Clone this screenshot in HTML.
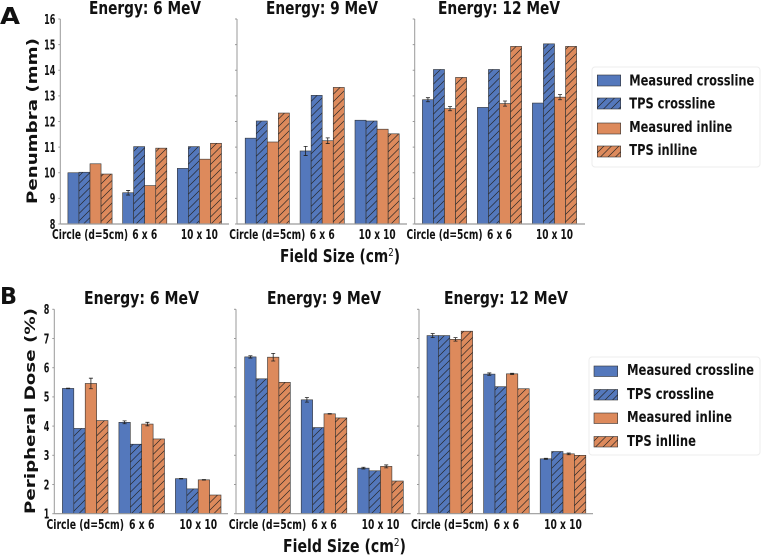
<!DOCTYPE html>
<html lang="en">
<head>
<meta charset="utf-8">
<title>Penumbra and Peripheral Dose by Field Size</title>
<style>
html,body{margin:0;padding:0;background:#fff;width:761px;height:555px;overflow:hidden}
svg{display:block;filter:blur(0.35px)}
text{font-family:"DejaVu Sans","Liberation Sans",sans-serif;font-weight:bold;fill:#111}
</style>
</head>
<body>
<svg id="fig" xmlns="http://www.w3.org/2000/svg" width="761" height="555" viewBox="0 0 761 555">
<defs>
<pattern id="hatch" patternUnits="userSpaceOnUse" width="7.5" height="7.5">
<path d="M-1,1 L1,-1 M0,7.5 L7.5,0 M6.5,8.5 L8.5,6.5" stroke="#222" stroke-width="0.62" fill="none"/>
</pattern>
</defs>
<text x="0" y="24" font-size="23.5" textLength="20" lengthAdjust="spacingAndGlyphs">A</text>
<text x="0" y="304" font-size="23" textLength="17" lengthAdjust="spacingAndGlyphs">B</text>
<text transform="translate(37,204) rotate(-90)" font-size="14.5" textLength="166" lengthAdjust="spacingAndGlyphs">Penumbra (mm)</text>
<text transform="translate(35,514) rotate(-90)" font-size="14.5" textLength="206" lengthAdjust="spacingAndGlyphs">Peripheral Dose (%)</text>
<text x="280" y="262" font-size="17.5" textLength="120" lengthAdjust="spacingAndGlyphs">Field Size (cm<tspan dy="-6" font-size="11" font-weight="normal">2</tspan><tspan dy="6">)</tspan></text>
<text x="283" y="552" font-size="17.5" textLength="123" lengthAdjust="spacingAndGlyphs">Field Size (cm<tspan dy="-6" font-size="11" font-weight="normal">2</tspan><tspan dy="6">)</tspan></text>
</svg>
<script>
// ---- data ----
const categories = ["Circle (d=5cm)", "6 x 6", "10 x 10"];
const seriesNames = ["Measured crossline", "TPS crossline", "Measured inline", "TPS inlline"];
const energyLabels = ["Energy: 6 MeV", "Energy: 9 MeV", "Energy: 12 MeV"];
const penumbraTicks = [8, 9, 10, 11, 12, 13, 14, 15, 16];
const doseTicks = [1, 2, 3, 4, 5, 6, 7, 8];

const penumbra6 = [[10.0, 10.02, 10.35, 9.95], [9.22, 11.02, 9.5, 10.96], [10.17, 11.02, 10.53, 11.15]];
const penumbra9 = [[11.35, 12.02, 11.2, 12.33], [10.85, 13.02, 11.25, 13.33], [12.05, 12.02, 11.7, 11.52]];
const penumbra12 = [[12.85, 14.03, 12.5, 13.72], [12.55, 14.03, 12.7, 14.93], [12.72, 15.03, 12.95, 14.93]];
const penumbraErr6 = [[0, 0, 0, 0], [0.09, 0, 0, 0], [0, 0, 0, 0]];
const penumbraErr9 = [[0, 0, 0, 0], [0.18, 0, 0.11, 0], [0, 0, 0, 0]];
const penumbraErr12 = [[0.08, 0, 0.08, 0], [0, 0, 0.1, 0], [0, 0, 0.1, 0]];

const dose6 = [[5.29, 3.92, 5.46, 4.19], [4.13, 3.38, 4.07, 3.56], [2.2, 1.85, 2.16, 1.64]];
const dose9 = [[6.37, 5.62, 6.36, 5.5], [4.9, 3.95, 4.42, 4.28], [2.56, 2.47, 2.62, 2.12]];
const dose12 = [[7.1, 7.1, 6.97, 7.25], [5.78, 5.35, 5.79, 5.28], [2.88, 3.13, 3.05, 3.0]];
const doseErr6 = [[0.01, 0, 0.18, 0], [0.05, 0, 0.06, 0], [0.01, 0, 0.01, 0]];
const doseErr9 = [[0.04, 0, 0.13, 0], [0.08, 0, 0.01, 0], [0.03, 0, 0.05, 0]];
const doseErr12 = [[0.07, 0, 0.06, 0], [0.04, 0, 0.02, 0], [0.02, 0, 0.03, 0]];

// ---- layout ----
const NS = "http://www.w3.org/2000/svg";
const svg = document.getElementById("fig");
const SPINE = "#9a9a9a";
const BLUE = "#5478bc";
const ORANGE = "#dd8a5c";
const colours = [BLUE, BLUE, ORANGE, ORANGE];
const hatched = [false, true, false, true];
const charWidth = {"Circle (d=5cm)": 76, "6 x 6": 25, "10 x 10": 37};

function mk(tag, attrs, parent) {
  const el = document.createElementNS(NS, tag);
  for (const k in attrs) el.setAttribute(k, attrs[k]);
  (parent || svg).appendChild(el);
  return el;
}
function slug(s) {
  return s.toLowerCase().replace(/[^a-z0-9]+/g, "-").replace(/^-|-$/g, "");
}

function drawPanel(p) {
  const g = mk("g", {});
  
  

  const yScale = v => p.y0 + (v - p.domain[0]) / (p.domain[1] - p.domain[0]) * (p.y1 - p.y0);
  const xScale = i => p.c0 + i * p.step;

  p.values.forEach((group, c) => {
    group.forEach((v, s) => {
      const x = xScale(c) + (s - 2) * p.barW;
      const top = yScale(v);
      const bar = mk("rect", {x: x, y: top, width: p.barW, height: p.y0 - top, fill: colours[s], stroke: "#333", "stroke-width": 0.6}, g);
      
      
      if (hatched[s]) {
        const h = mk("rect", {x: x, y: top, width: p.barW, height: p.y0 - top, fill: "url(#hatch)"}, g);
        
        
      }
      const err = p.errors[c][s];
      if (err > 0) {
        const cx = x + p.barW / 2;
        const e = mk("path", {
          d: "M" + cx + "," + yScale(v - err) + "V" + yScale(v + err) +
             "M" + (cx - 2) + "," + yScale(v - err) + "h4M" + (cx - 2) + "," + yScale(v + err) + "h4",
          stroke: "#222", "stroke-width": 0.8, fill: "none"
        }, g);
        
        
      }
    });
  });

  const leftSpine = mk("line", {x1: p.left, x2: p.left, y1: p.y0, y2: p.y1, stroke: SPINE, "stroke-width": 1}, g);
  
  
  const bottomSpine = mk("line", {x1: p.left, x2: p.right, y1: p.y0, y2: p.y0, stroke: SPINE, "stroke-width": 1.2}, g);
  
  

  p.ticks.forEach(t => {
    const y = yScale(t);
    const tick = mk("line", {x1: p.left - 2, x2: p.left, y1: y, y2: y, stroke: SPINE, "stroke-width": 1}, g);
    
    
    if (p.showY) {
      const s = String(t);
      const lab = mk("text", {x: p.left - 5, y: y + 4.8, "font-size": 13, "text-anchor": "end", textLength: s.length * 5.6, lengthAdjust: "spacingAndGlyphs"}, g);
      
      
      lab.textContent = s;
    }
  });

  categories.forEach((name, c) => {
    const lab = mk("text", {x: xScale(c), y: p.y0 + 15.2, "font-size": 13.5, "text-anchor": "middle", textLength: charWidth[name] * p.labelScale, lengthAdjust: "spacingAndGlyphs"}, g);
    
    
    lab.textContent = name;
  });

  const title = mk("text", {x: p.titleX, y: p.titleY, "font-size": 17.5, "text-anchor": "middle", textLength: p.titleW, lengthAdjust: "spacingAndGlyphs"}, g);
  
  
  title.textContent = p.title;
}

function drawLegend(l) {
  const g = mk("g", {});
  
  
  const box = mk("rect", {x: l.x, y: l.y, width: l.w, height: l.h, rx: 3, fill: "#fff", stroke: "#ececec", "stroke-width": 1}, g);
  
  
  seriesNames.forEach((name, s) => {
    const patch = mk("rect", {x: l.px, y: l.py[s], width: l.pw, height: l.ph, fill: colours[s], stroke: "#333", "stroke-width": 0.6}, g);
    
    
    if (hatched[s]) {
      const h = mk("rect", {x: l.px, y: l.py[s], width: l.pw, height: l.ph, fill: "url(#hatch)"}, g);
      
      
    }
    const t = mk("text", {x: l.tx, y: l.ty[s], "font-size": 15, textLength: l.tw[s], lengthAdjust: "spacingAndGlyphs"}, g);
    
    
    t.textContent = name;
  });
}

const aBase = {y0: 224, y1: 19, domain: [8, 16], ticks: penumbraTicks, barW: 11.05, titleY: 14, labelScale: 1};
drawPanel({...aBase, name: "penumbra-6-mev", title: energyLabels[0], values: penumbra6, errors: penumbraErr6, left: 60.3, right: 229, c0: 90, step: 54.7, showY: true, titleX: 145, titleW: 112});
drawPanel({...aBase, name: "penumbra-9-mev", title: energyLabels[1], values: penumbra9, errors: penumbraErr9, left: 237, right: 407, c0: 267.3, step: 54.9, showY: false, titleX: 322, titleW: 112});
drawPanel({...aBase, name: "penumbra-12-mev", title: energyLabels[2], values: penumbra12, errors: penumbraErr12, left: 414.7, right: 585, c0: 444.5, step: 55, showY: false, titleX: 499, titleW: 122});

const bBase = {y0: 513.7, y1: 309.3, domain: [1, 8], ticks: doseTicks, barW: 11.4, titleY: 304, labelScale: 1.02};
drawPanel({...bBase, name: "dose-6-mev", title: energyLabels[0], values: dose6, errors: doseErr6, left: 54.3, right: 228, c0: 85.2, step: 56.5, showY: true, titleX: 141.5, titleW: 115});
drawPanel({...bBase, name: "dose-9-mev", title: energyLabels[1], values: dose9, errors: doseErr9, left: 236, right: 410.7, c0: 267.5, step: 56.5, showY: false, titleX: 324, titleW: 114});
drawPanel({...bBase, name: "dose-12-mev", title: energyLabels[2], values: dose12, errors: doseErr12, left: 419, right: 593, c0: 449.8, step: 56.6, showY: false, titleX: 506, titleW: 124});

drawLegend({name: "penumbra-legend", x: 592, y: 67, w: 168, h: 100, px: 597.3, pw: 23.4, ph: 11, py: [75, 98, 123, 146], tx: 629.3, ty: [85.5, 108.5, 132, 155], tw: [125, 86, 103, 68]});
drawLegend({name: "dose-legend", x: 589, y: 357, w: 171, h: 98, px: 594, pw: 23.7, ph: 10.5, py: [366, 389.5, 413, 436.5], tx: 627, ty: [375, 399, 422, 446], tw: [127, 87, 105, 69]});
</script>
</body>
</html>
